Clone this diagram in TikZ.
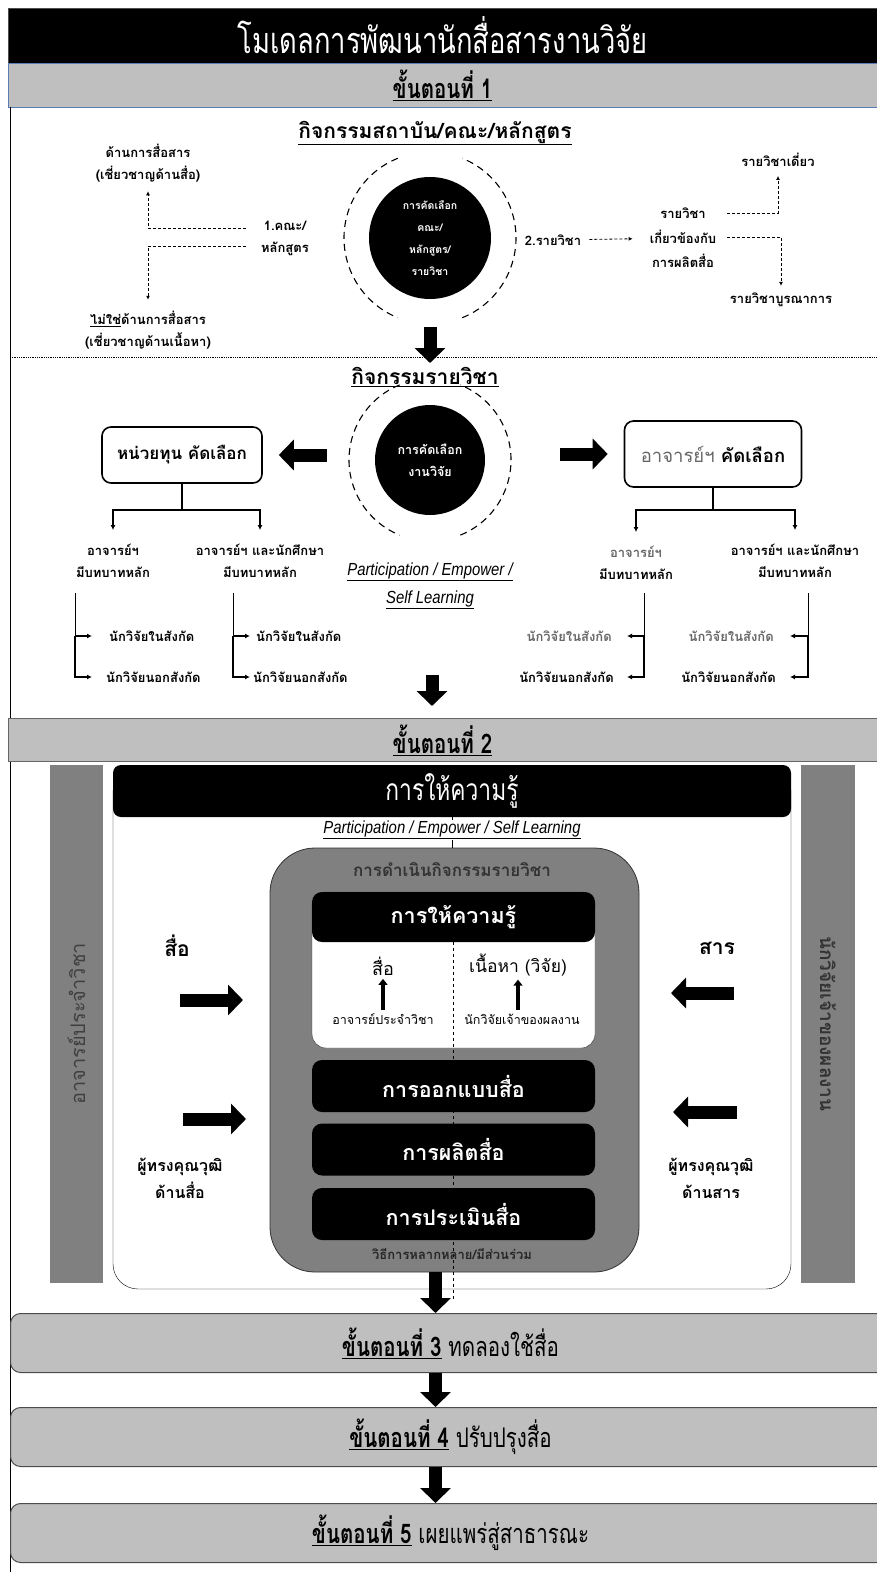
\documentclass[tikz,border=0pt]{standalone}
\usepackage{fontspec}
\setmainfont{Loma}[Script=Thai]
\newfontfamily\narrow[Script=Thai, FakeStretch=0.76]{Loma}
\newfontfamily\latin[FakeStretch=0.85]{Liberation Sans}
\usetikzlibrary{arrows.meta, positioning}
\definecolor{band}{HTML}{BFBFBF}
\definecolor{pillar}{HTML}{808080}
\definecolor{bandline}{HTML}{5B7DB5}
\definecolor{softtext}{HTML}{666666}
\tikzstyle{banner} = [font=\narrow\fontsize{36}{38}\selectfont, text=white]
\tikzstyle{stage} = [font=\narrow\bfseries\fontsize{27}{30}\selectfont]
\tikzstyle{heading} = [font=\bfseries\fontsize{21}{24}\selectfont]
\tikzstyle{note} = [font=\bfseries\fontsize{13}{22}\selectfont, align=center, inner sep=1pt]
\tikzstyle{small note} = [font=\bfseries\fontsize{13}{15}\selectfont, inner sep=1pt]
\tikzstyle{core} = [circle, fill=black, text=white, align=center, inner sep=0pt]
\tikzstyle{ring} = [line width=1.1pt, dash pattern=on 7pt off 5pt]
\tikzstyle{picker} = [draw, line width=1.6pt, rounded corners=9pt, fill=white, font=\bfseries\fontsize{17}{20}\selectfont]
\tikzstyle{fat arrow} = [line width=13pt, -{Triangle[length=15pt, width=30pt]}]
\tikzstyle{link} = [-{Latex[length=5pt, width=5pt]}, line width=1.3pt]
\tikzstyle{hint} = [densely dashed, -{Latex[length=4pt, width=4pt]}, line width=0.8pt]
\tikzstyle{slab} = [fill=black, rounded corners=10pt, text=white, font=\bfseries\fontsize{21.5}{24}\selectfont, minimum width=283pt, minimum height=52pt]
\tikzstyle{stage box} = [draw=black!70, fill=band, line width=1pt, rounded corners=10pt, minimum width=880pt, minimum height=59pt, anchor=west, stage]
\tikzstyle{motto} = [font=\latin\itshape\fontsize{17.5}{28}\selectfont, align=center, inner sep=1pt]
\tikzstyle{side} = [font=\bfseries\fontsize{21}{24}\selectfont]
\tikzstyle{expert} = [font=\bfseries\fontsize{16}{27}\selectfont, align=center]

\begin{document}
\begin{tikzpicture}[x=1pt, y=-1pt, node distance=5pt]
    \useasboundingbox (0,0) rectangle (877,1572);

    % Title and stage 1.
    \node (banner) [fill=black, draw=black!70, minimum width=869pt, minimum height=55pt, banner] at (442.5,35.5) {โมเดลการพัฒนานักสื่อสารงานวิจัย};
    \node (stage 1) [fill=band, draw=bandline, minimum width=869pt, minimum height=44pt, stage] at (442.5,85) {\underline{ขั้นตอนที่ 1}};
    \draw [thin] (10,107) -- (10,1572);

    \node (inst head) [heading] at (435,133) {\underline{กิจกรรมสถาบัน/คณะ/หลักสูตร}};
    \node (pick 1) [core, minimum size=122pt, font=\bfseries\fontsize{10.5}{22}\selectfont] at (430,238) {การคัดเลือก\\คณะ/\\หลักสูตร/\\รายวิชา};
    \draw [ring] ([shift={(112:86pt)}]pick 1.center) arc [start angle=112, end angle=248, radius=86pt];
    \draw [ring] ([shift={(-68:86pt)}]pick 1.center) arc [start angle=-68, end angle=68, radius=86pt];

    \node (faculty) [note] at (285,238) {1.คณะ/\\หลักสูตร};
    \node (media side) [note] at (148,163) {ด้านการสื่อสาร\\(เชี่ยวชาญด้านสื่อ)};
    \node (content side) [note] at (148,330) {\underline{ไม่ใช่}ด้านการสื่อสาร\\(เชี่ยวชาญด้านเนื้อหา)};
    \node (course no) [note] at (553,240) {2.รายวิชา};
    \node (related) [note, font=\bfseries\fontsize{13}{24.5}\selectfont] at (683,238) {รายวิชา\\เกี่ยวข้องกับ\\การผลิตสื่อ};
    \node (single) [note] at (778,160) {รายวิชาเดี่ยว};
    \node (blended) [note] at (781,300) {รายวิชาบูรณาการ};

    % Dashed arrows.
    \draw [hint, shorten >=8pt] ([xshift=-14pt, yshift=10pt]faculty.west) -| (media side.south);
    \draw [hint, shorten >=10pt] ([xshift=-14pt, yshift=-8pt]faculty.west) -| (content side.north);
    \draw [hint, shorten <=7pt, shorten >=16pt] (course no) -- (related);
    \draw [hint, shorten >=8pt] ([xshift=10pt, yshift=25pt]related.east) -| (single.south);
    \draw [hint, shorten >=6pt] ([xshift=10pt, yshift=1pt]related.east) -| (blended.north);

    \draw [fat arrow, shorten <=28pt, shorten >=4pt] (pick 1.south) -- (pick 1.south |- 0,367);
    \draw [densely dotted, thick] (10,357) -- (877,357);

    % Course activity.
    \node (course head) [heading] at (425,377) {\underline{กิจกรรมรายวิชา}};
    \node (pick 2) [core, minimum size=110pt, font=\bfseries\fontsize{12.5}{22}\selectfont] at (430,460) {การคัดเลือก\\งานวิจัย};
    \draw [ring] ([shift={(112:81pt)}]pick 2.center) arc [start angle=112, end angle=248, radius=81pt];
    \draw [ring] ([shift={(-68:81pt)}]pick 2.center) arc [start angle=-68, end angle=68, radius=81pt];

    \node (fund) [picker, minimum width=160pt, minimum height=56pt] at (182,455) {หน่วยทุน คัดเลือก};
    \node (teacher) [picker, minimum width=177pt, minimum height=66pt, font=\bfseries\fontsize{18.5}{20}\selectfont] at (713,454) {\textcolor{softtext}{\mdseries อาจารย์ฯ} คัดเลือก};
    \draw [fat arrow, shorten <=48pt, shorten >=16pt] (fund.east -| pick 2.west) -- (fund.east);
    \draw [fat arrow, shorten <=75pt, shorten >=16pt] (teacher.west -| pick 2.east) -- (teacher.west);

    \node (fund a) [note] at (113,561) {อาจารย์ฯ\\มีบทบาทหลัก};
    \node (fund b) [note] at (260,561) {อาจารย์ฯ และนักศึกษา\\มีบทบาทหลัก};
    \node (teacher a) [note] at (636,563) {\textcolor{softtext}{อาจารย์ฯ}\\มีบทบาทหลัก};
    \node (teacher b) [note] at (795,561) {อาจารย์ฯ และนักศึกษา\\มีบทบาทหลัก};
    \coordinate (fund fork) at (182,510);
    \coordinate (teacher fork) at (713,510);
    \foreach \root/\i in {fund/a, fund/b, teacher/a, teacher/b} {%
        \draw [link, shorten >=13pt] (\root.south) -- (\root\space fork) -| (\root\space\i.north);
    }

    \node (motto 1) [motto] at (430,586) {\underline{Participation / Empower /}\\\underline{Self Learning}};

    % Researcher brackets.
    \foreach \x/\tip/\n/\gap in {75/92/1/16, 233/250/2/5} {%
        \coordinate (bar \n) at (\x,593);
        \node (in \n) [small note, anchor=west] at (\tip+\gap,636) {นักวิจัยในสังกัด};
        \node (out \n) [small note, anchor=west] at (\tip+\gap-3,677) {นักวิจัยนอกสังกัด};
        \draw [thick] (bar \n) -- (bar \n |- in \n.west);
        \draw [link, shorten >=\gap pt] (bar \n |- in \n.west) -- (in \n.west);
        \draw [link, shorten >=\gap pt-3pt] (bar \n |- in \n.west) |- (out \n.west);
    }
    \foreach \x/\tip/\n/\gap in {644/627/3/14, 808/790/4/15} {%
        \coordinate (bar \n) at (\x,593);
        \node (in \n) [small note, anchor=east, text=softtext] at (\tip-\gap,636) {นักวิจัยในสังกัด};
        \node (out \n) [small note, anchor=east] at (\tip-\gap+2,677) {นักวิจัยนอกสังกัด};
        \draw [thick] (bar \n) -- (bar \n |- in \n.east);
        \draw [link, shorten >=\gap pt] (bar \n |- in \n.east) -- (in \n.east);
        \draw [link, shorten >=\gap pt-2pt] (bar \n |- in \n.east) |- (out \n.east);
    }

    \coordinate (drop 2) at (432,675);
    \draw [fat arrow] (drop 2) -- ++(0,31);

    % Stage 2.
    \node (stage 2) [fill=band, draw=black!60, minimum width=869pt, minimum height=43pt, stage] at (442.5,740) {\underline{ขั้นตอนที่ 2}};
    \node (lecturer bar) [fill=pillar, minimum width=53pt, minimum height=518pt, inner sep=0pt] at (76.5,1024) {};
    \node (lecturer) [rotate=90, font=\fontsize{20}{22}\selectfont, text=black!75] at (lecturer bar) {อาจารย์ประจำวิชา};
    \node (owner bar) [fill=pillar, minimum width=54pt, minimum height=518pt, inner sep=0pt] at (828,1024) {};
    \node (owner) [rotate=-90, font=\bfseries\fontsize{19}{22}\selectfont, text=black!80] at (owner bar) {นักวิจัยเจ้าของผลงาน};

    \node (frame) [draw, fill=white, rounded corners=25pt, minimum width=678pt, minimum height=522pt] at (452,1028) {};
    \node (knowledge) [slab, rounded corners=8pt, minimum width=678pt, font=\narrow\fontsize{30}{32}\selectfont] at (452,791) {การให้ความรู้};
    \node (activity) [fill=pillar, draw=black!80, thick, rounded corners=45pt, minimum width=369pt, minimum height=424pt] at (454.5,1060) {};
    \draw [thin] (knowledge.south) -- (knowledge.south |- activity.north);
    \node (motto 2) [motto, fill=white] at (452,830) {\underline{Participation / Empower / Self Learning}};
    \node (activity head) [font=\bfseries\fontsize{17}{20}\selectfont, text=black!80] at (452,870) {การดำเนินกิจกรรมรายวิชา};

    \node (inner) [fill=white, draw=black!80, rounded corners=14pt, minimum width=283pt, minimum height=156pt] at (453.5,970) {};
    \node (inner head) [slab, minimum height=50pt] at (453.5,917) {การให้ความรู้};
    \draw [dashed, thin] (inner head.south -| 453,0) -- (453,1300);

    \node (media) [font=\fontsize{18}{20}\selectfont] at (383,966) {สื่อ};
    \node (lecturer src) [font=\fontsize{12.5}{14}\selectfont] at (383,1019) {อาจารย์ประจำวิชา};
    \node (content) [font=\fontsize{17.5}{20}\selectfont] at (518,965) {เนื้อหา (วิจัย)};
    \node (owner src) [font=\fontsize{12.5}{14}\selectfont] at (522,1019) {นักวิจัยเจ้าของผลงาน};
    \draw [line width=3.5pt, -{Triangle[length=6pt, width=9pt]}] (lecturer src.north) -- (media.south);
    \draw [line width=3.5pt, -{Triangle[length=6pt, width=9pt]}] (content.south |- owner src.north) -- (content.south);

    \node (design) [slab] at (453.5,1086) {การออกแบบสื่อ};
    \node (production) [slab] at (453.5,1149.5) {การผลิตสื่อ};
    \node (evaluation) [slab] at (453.5,1214) {การประเมินสื่อ};
    \node (methods) [font=\bfseries\fontsize{13}{15}\selectfont, text=black!85] at (452,1254) {วิธีการหลากหลาย/มีส่วนร่วม};

    \node (media in) [side] at (177,946) {สื่อ};
    \node (media expert) [expert] at (180,1178) {ผู้ทรงคุณวุฒิ\\ด้านสื่อ};
    \node (message in) [side] at (717,948) {สาร};
    \node (message expert) [expert] at (711,1178) {ผู้ทรงคุณวุฒิ\\ด้านสาร};
    \coordinate (media push) at (180,1000);
    \coordinate (expert push) at (183,1119);
    \coordinate (message push) at (734,993);
    \coordinate (expert pull) at (737,1112);
    \draw [fat arrow] (media push) -- ++(63,0);
    \draw [fat arrow] (expert push) -- ++(63,0);
    \draw [fat arrow] (message push) -- ++(-63,0);
    \draw [fat arrow] (expert pull) -- ++(-64,0);

    % Stages 3 to 5.
    \foreach \n/\y/\t in {3/1343/ทดลองใช้สื่อ, 4/1437/ปรับปรุงสื่อ, 5/1533/เผยแพร่สู่สาธารณะ} {%
        \node (stage \n) [stage box] at (10,\y) {\underline{ขั้นตอนที่ \n} {\mdseries\t}};
    }
    \draw [fat arrow] ([xshift=-19pt]activity.south) -- ([xshift=-15pt]stage 3.north);
    \foreach \a/\b in {3/4, 4/5} {%
        \draw [fat arrow] ([xshift=-15pt]stage \a.south) -- ([xshift=-15pt]stage \b.north);
    }
\end{tikzpicture}
\end{document}
